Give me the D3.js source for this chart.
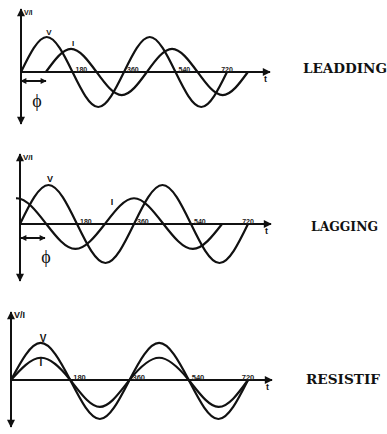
<!DOCTYPE html>
<html>
<head>
<meta charset="utf-8">
<script src="https://cdn.jsdelivr.net/npm/d3@7"></script>
<style>
  html, body { margin: 0; padding: 0; background: #fff; }
  svg { display: block; }
</style>
</head>
<body>
<script>
// Key points (every quarter period) of the voltage and current waves, in degrees.
const keyAngles = [0, 90, 180, 270, 360, 450, 540, 630, 720];
const tickAngles = [180, 360, 540, 720];
const tickLabels = ["180", "360", "540", "720"];
const titles = ["LEADDING", "LAGGING", "RESISTIF"];

// Leading: current shifted by about a quarter period
const leadV = [0, 1, 0, -1, 0, 1, 0, -1, 0];
const leadIAngles = [87, 175, 264, 352, 440, 528, 617, 705, 793];
const leadI = [0, 0.66, 0, -0.66, 0, 0.66, 0, -0.66, 0];

// Lagging: current starts near its crest (the first point lies left of the clip edge)
const lagV = [0, 1, 0, -1, 0, 1, 0, -1, 0];
const lagIAngles = [-100, -10, 83, 175, 268, 360, 453, 546, 638];
const lagI = [0, 0.66, 0, -0.64, 0, 0.66, 0, -0.64, 0];

// Resistive: voltage and current in phase
const resV = [0, 0.95, 0, -1, 0, 0.95, 0, -1, 0];
const resI = [0, 0.57, 0, -0.69, 0, 0.57, 0, -0.69, 0];

const W = 387, H = 434;
const svg = d3.select("body").append("svg").attr("width", W).attr("height", H);

const defs = svg.append("defs");
function marker(id, w, h) {
  defs.append("marker")
    .attr("id", id)
    .attr("viewBox", "0 0 10 10")
    .attr("refX", 9).attr("refY", 5)
    .attr("markerUnits", "userSpaceOnUse")
    .attr("markerWidth", w).attr("markerHeight", h)
    .attr("orient", "auto-start-reverse")
    .append("path").attr("d", "M0,0 L10,5 L0,10 Z").attr("fill", "#111");
}
marker("arr", 9, 8);
marker("arrSmall", 7, 6);

const panels = [
  { v: leadV, vA: keyAngles, i: leadI, iA: leadIAngles, x0: 21, x720: 227, axisY: 72, unit: 35,
    yTop: 9, yBot: 124, xEnd: 270, title: titles[0], titleX: 303, titleY: 73, titleW: 84,
    vLbl: [49, 35], iLbl: [73, 46], phi: { x1: 21, x2: 46, y: 81, px: 37, py: 107 }, lblSize: 8, numSize: 7 },
  { v: lagV, vA: keyAngles, i: lagI, iA: lagIAngles, x0: 20, x720: 248, axisY: 224, unit: 39,
    yTop: 154, yBot: 281, xEnd: 271, title: titles[1], titleX: 311, titleY: 231, titleW: 67,
    vLbl: [50, 182], iLbl: [112, 205], phi: { x1: 21, x2: 45, y: 238, px: 46, py: 263 }, lblSize: 9, numSize: 7 },
  { v: resV, vA: keyAngles, i: resI, iA: keyAngles, x0: 11, x720: 248, axisY: 380, unit: 39,
    yTop: 312, yBot: 427, xEnd: 272, title: titles[2], titleX: 306, titleY: 384, titleW: 74,
    vLbl: [43, 342], iLbl: [41, 366], phi: null, lblSize: 10, numSize: 7.5 }
];

panels.forEach((p, idx) => {
  const g = svg.append("g");
  const x = d3.scaleLinear().domain([0, 720]).range([p.x0, p.x720]);
  const y = d3.scaleLinear().domain([-1, 1]).range([p.axisY + p.unit, p.axisY - p.unit]);

  // waves are cut a few pixels left of the vertical axis
  const clipId = "clip" + idx;
  defs.append("clipPath").attr("id", clipId)
    .append("rect").attr("x", p.x0 - 4).attr("y", 0).attr("width", W).attr("height", H);

  // axes
  g.append("line")
    .attr("x1", p.x0).attr("x2", p.x0).attr("y1", p.yBot).attr("y2", p.yTop)
    .attr("stroke", "#111").attr("stroke-width", 2)
    .attr("marker-start", "url(#arr)").attr("marker-end", "url(#arr)");
  g.append("line")
    .attr("x1", p.x0).attr("x2", p.xEnd).attr("y1", p.axisY).attr("y2", p.axisY)
    .attr("stroke", "#111").attr("stroke-width", 2)
    .attr("marker-end", "url(#arr)");

  g.append("text").attr("x", p.x0 + 3).attr("y", p.yTop + 6)
    .attr("font-family", "Liberation Sans, Arial, sans-serif").attr("font-weight", "bold")
    .attr("font-size", p.lblSize - 1).attr("fill", "#111").text("V/I");
  g.append("text").attr("x", p.xEnd - 6).attr("y", p.axisY + 10)
    .attr("font-family", "Liberation Sans, Arial, sans-serif").attr("font-weight", "bold")
    .attr("font-size", 9).attr("fill", "#111").text("t");

  // waves
  const line = d3.line().curve(d3.curveNatural).x(d => x(d[0])).y(d => y(d[1]));
  const vPts = p.vA.map((a, k) => [a, p.v[k]]);
  const iPts = p.iA.map((a, k) => [a, p.i[k]]);
  const waves = g.append("g").attr("clip-path", `url(#${clipId})`);
  waves.append("path").attr("d", line(vPts)).attr("fill", "none")
    .attr("stroke", "#111").attr("stroke-width", 2.2);
  waves.append("path").attr("d", line(iPts)).attr("fill", "none")
    .attr("stroke", "#111").attr("stroke-width", 2.2);

  // tick labels along the time axis
  g.selectAll("text.tick").data(tickAngles).enter().append("text")
    .attr("class", "tick")
    .attr("x", (d, k) => k === tickAngles.length - 1 ? x(d) : x(d) + 3)
    .attr("y", p.axisY)
    .attr("text-anchor", (d, k) => k === tickAngles.length - 1 ? "middle" : "start")
    .attr("font-family", "Liberation Sans, Arial, sans-serif").attr("font-weight", "bold")
    .attr("font-size", p.numSize).attr("fill", "#222")
    .text((d, k) => tickLabels[k]);

  // series labels
  g.append("text").attr("x", p.vLbl[0]).attr("y", p.vLbl[1]).attr("text-anchor", "middle")
    .attr("font-family", "Liberation Sans, Arial, sans-serif").attr("font-weight", "bold")
    .attr("font-size", p.lblSize).attr("fill", "#111").text("V");
  g.append("text").attr("x", p.iLbl[0]).attr("y", p.iLbl[1]).attr("text-anchor", "middle")
    .attr("font-family", "Liberation Sans, Arial, sans-serif").attr("font-weight", "bold")
    .attr("font-size", p.lblSize).attr("fill", "#111").text("I");

  // phase angle marker
  if (p.phi) {
    g.append("line")
      .attr("x1", p.phi.x1).attr("x2", p.phi.x2).attr("y1", p.phi.y).attr("y2", p.phi.y)
      .attr("stroke", "#111").attr("stroke-width", 2)
      .attr("marker-start", "url(#arrSmall)").attr("marker-end", "url(#arrSmall)");
    g.append("text").attr("x", p.phi.px).attr("y", p.phi.py).attr("text-anchor", "middle")
      .attr("font-family", "Liberation Serif, Times New Roman, serif")
      .attr("font-size", 18).attr("fill", "#111").text("ϕ");
  }

  // panel title
  g.append("text").attr("x", p.titleX).attr("y", p.titleY)
    .attr("font-family", "DejaVu Serif, serif").attr("font-weight", "bold")
    .attr("font-size", 13).attr("fill", "#111")
    .attr("textLength", p.titleW).attr("lengthAdjust", "spacingAndGlyphs")
    .text(p.title);
});
</script>
</body>
</html>
